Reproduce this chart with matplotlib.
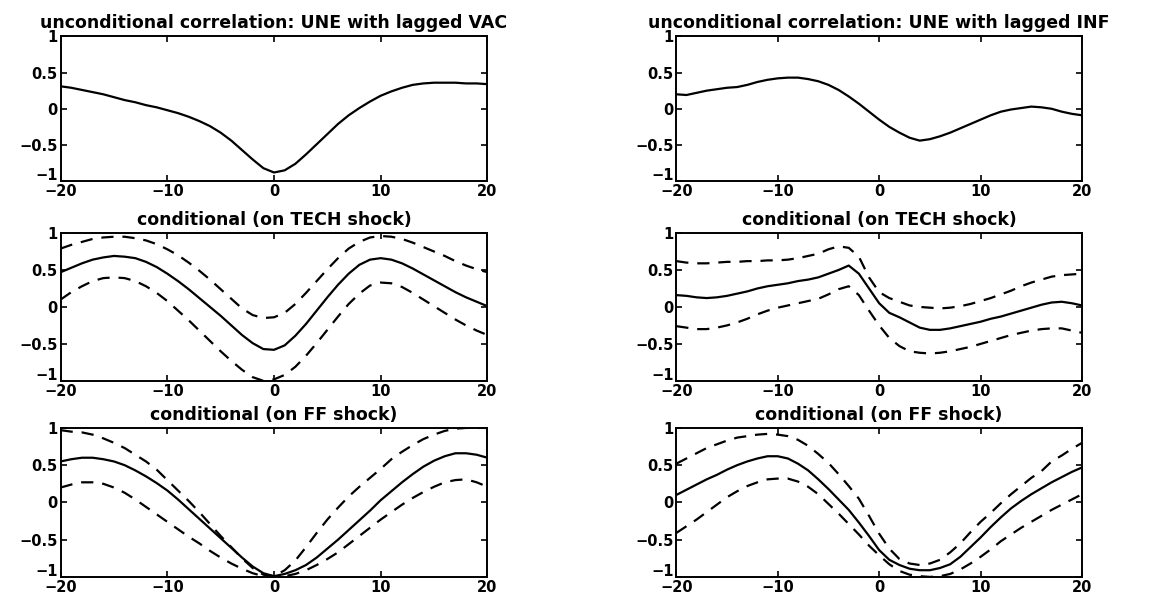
import numpy as np
import matplotlib.pyplot as plt
from matplotlib.transforms import ScaledTranslation

plt.rcParams['font.family'] = ['DejaVu Sans']
plt.rcParams['font.weight'] = 'bold'

# lags -20 .. 20
lags = np.arange(-20, 21)

# unconditional: UNE with lagged VAC
vac_uncond = [0.31, 0.29, 0.26, 0.23, 0.20, 0.16, 0.12, 0.09, 0.05, 0.02,
              -0.02, -0.06, -0.11, -0.17, -0.24, -0.33, -0.44, -0.57, -0.70, -0.82,
              -0.88, -0.85, -0.76, -0.63, -0.49, -0.35, -0.21, -0.09, 0.01, 0.10,
              0.18, 0.24, 0.29, 0.33, 0.35, 0.36, 0.36, 0.36, 0.35, 0.35, 0.34]
# unconditional: UNE with lagged INF
inf_uncond = [0.20, 0.19, 0.22, 0.25, 0.27, 0.29, 0.30, 0.33, 0.37, 0.40,
              0.42, 0.43, 0.43, 0.41, 0.38, 0.33, 0.26, 0.17, 0.07, -0.04,
              -0.15, -0.25, -0.33, -0.40, -0.44, -0.42, -0.38, -0.33, -0.27, -0.21,
              -0.15, -0.09, -0.04, -0.01, 0.01, 0.03, 0.02, 0.00, -0.04, -0.07, -0.09]

# conditional on TECH shock, VAC
vac_tech = [0.47, 0.53, 0.59, 0.64, 0.67, 0.69, 0.68, 0.66, 0.61, 0.54,
            0.45, 0.35, 0.24, 0.12, 0.00, -0.12, -0.25, -0.38, -0.49, -0.57,
            -0.58, -0.52, -0.39, -0.23, -0.05, 0.13, 0.30, 0.45, 0.57, 0.64,
            0.66, 0.64, 0.59, 0.52, 0.44, 0.36, 0.28, 0.20, 0.13, 0.07, 0.01]
vac_tech_hi = [0.79, 0.84, 0.88, 0.92, 0.94, 0.95, 0.95, 0.93, 0.90, 0.85,
               0.78, 0.70, 0.60, 0.49, 0.37, 0.24, 0.11, -0.02, -0.11, -0.15,
               -0.14, -0.08, 0.04, 0.19, 0.35, 0.51, 0.66, 0.79, 0.88, 0.94,
               0.96, 0.95, 0.92, 0.87, 0.81, 0.75, 0.69, 0.62, 0.56, 0.51, 0.47]
vac_tech_lo = [0.10, 0.20, 0.28, 0.35, 0.39, 0.40, 0.39, 0.35, 0.28, 0.19,
               0.08, -0.05, -0.18, -0.32, -0.46, -0.60, -0.73, -0.85, -0.95, -1.00,
               -0.98, -0.92, -0.81, -0.66, -0.49, -0.31, -0.13, 0.04, 0.18, 0.29,
               0.33, 0.32, 0.27, 0.19, 0.10, 0.01, -0.08, -0.17, -0.25, -0.32, -0.38]

# conditional on TECH shock, INF
inf_tech = [0.16, 0.15, 0.13, 0.12, 0.13, 0.15, 0.18, 0.21, 0.25, 0.28,
            0.30, 0.32, 0.35, 0.37, 0.40, 0.45, 0.50, 0.56, 0.45, 0.25,
            0.05, -0.08, -0.14, -0.21, -0.28, -0.31, -0.31, -0.29, -0.26, -0.23,
            -0.20, -0.16, -0.13, -0.09, -0.05, -0.01, 0.03, 0.06, 0.07, 0.05, 0.02]
inf_tech_hi = [0.62, 0.60, 0.59, 0.59, 0.60, 0.61, 0.61, 0.62, 0.62, 0.63,
               0.63, 0.64, 0.66, 0.69, 0.72, 0.78, 0.82, 0.80, 0.68, 0.40,
               0.20, 0.12, 0.07, 0.02, 0.00, -0.01, -0.02, -0.01, 0.01, 0.04,
               0.08, 0.12, 0.17, 0.22, 0.28, 0.33, 0.37, 0.41, 0.43, 0.44, 0.45]
inf_tech_lo = [-0.26, -0.28, -0.30, -0.30, -0.28, -0.25, -0.21, -0.16, -0.10, -0.05,
               -0.01, 0.02, 0.05, 0.08, 0.11, 0.17, 0.24, 0.28, 0.16, -0.05,
               -0.25, -0.42, -0.53, -0.60, -0.62, -0.63, -0.62, -0.60, -0.57, -0.54,
               -0.50, -0.46, -0.42, -0.38, -0.35, -0.32, -0.30, -0.29, -0.29, -0.32, -0.35]

# conditional on FF shock, VAC
vac_ff = [0.55, 0.58, 0.60, 0.60, 0.58, 0.55, 0.50, 0.43, 0.35, 0.26,
          0.16, 0.04, -0.09, -0.22, -0.35, -0.48, -0.61, -0.74, -0.86, -0.95,
          -0.99, -0.96, -0.91, -0.84, -0.74, -0.62, -0.50, -0.37, -0.24, -0.11,
          0.03, 0.15, 0.27, 0.38, 0.48, 0.56, 0.62, 0.66, 0.66, 0.64, 0.60]
vac_ff_hi = [0.97, 0.95, 0.94, 0.91, 0.86, 0.80, 0.73, 0.64, 0.55, 0.44,
             0.30, 0.16, 0.02, -0.13, -0.29, -0.45, -0.60, -0.75, -0.88, -0.97,
             -0.99, -0.91, -0.78, -0.60, -0.41, -0.23, -0.07, 0.08, 0.21, 0.33,
             0.45, 0.58, 0.68, 0.77, 0.85, 0.91, 0.96, 0.99, 1.00, 1.00, 1.00]
vac_ff_lo = [0.20, 0.24, 0.27, 0.27, 0.25, 0.20, 0.13, 0.04, -0.06, -0.16,
             -0.26, -0.36, -0.46, -0.55, -0.65, -0.74, -0.82, -0.89, -0.95, -0.99,
             -1.00, -0.99, -0.96, -0.91, -0.84, -0.76, -0.67, -0.56, -0.45, -0.34,
             -0.23, -0.13, -0.03, 0.06, 0.14, 0.21, 0.27, 0.30, 0.31, 0.27, 0.21]

# conditional on FF shock, INF
inf_ff = [0.10, 0.17, 0.24, 0.31, 0.37, 0.44, 0.50, 0.55, 0.59, 0.62,
          0.62, 0.59, 0.52, 0.43, 0.31, 0.18, 0.04, -0.10, -0.27, -0.45,
          -0.64, -0.77, -0.84, -0.89, -0.91, -0.91, -0.88, -0.83, -0.73, -0.60,
          -0.47, -0.33, -0.20, -0.08, 0.02, 0.11, 0.19, 0.27, 0.34, 0.41, 0.47]
inf_ff_hi = [0.52, 0.59, 0.66, 0.73, 0.78, 0.83, 0.87, 0.89, 0.91, 0.92,
             0.91, 0.89, 0.84, 0.76, 0.65, 0.53, 0.38, 0.22, 0.05, -0.18,
             -0.42, -0.62, -0.76, -0.82, -0.84, -0.82, -0.77, -0.67, -0.55, -0.40,
             -0.26, -0.14, -0.01, 0.11, 0.22, 0.33, 0.42, 0.55, 0.63, 0.72, 0.80]
inf_ff_lo = [-0.41, -0.32, -0.23, -0.13, -0.03, 0.07, 0.15, 0.22, 0.27, 0.31,
             0.32, 0.32, 0.28, 0.21, 0.11, -0.02, -0.15, -0.29, -0.43, -0.58,
             -0.71, -0.83, -0.92, -0.97, -0.99, -1.00, -0.99, -0.96, -0.90, -0.82,
             -0.73, -0.63, -0.52, -0.43, -0.34, -0.26, -0.18, -0.10, -0.03, 0.04, 0.11]

titles = ['unconditional correlation: UNE with lagged VAC',
          'unconditional correlation: UNE with lagged INF',
          'conditional (on TECH shock)', 'conditional (on TECH shock)',
          'conditional (on FF shock)', 'conditional (on FF shock)']

panels = [(vac_uncond, None, None), (inf_uncond, None, None),
          (vac_tech, vac_tech_hi, vac_tech_lo), (inf_tech, inf_tech_hi, inf_tech_lo),
          (vac_ff, vac_ff_hi, vac_ff_lo), (inf_ff, inf_ff_hi, inf_ff_lo)]

fig = plt.figure(figsize=(11.66, 5.96), dpi=100)

col_x = [(0.052, 0.366), (0.580, 0.348)]
row_y = [(0.696, 0.243), (0.361, 0.248), (0.032, 0.250)]

for i, (mid, hi, lo) in enumerate(panels):
    r, c = divmod(i, 2)
    ax = fig.add_axes([col_x[c][0], row_y[r][0], col_x[c][1], row_y[r][1]])
    ax.plot(lags, mid, color='black', lw=1.6)
    if hi is not None:
        ax.plot(lags, hi, color='black', lw=1.6, dashes=(5.5, 4))
        ax.plot(lags, lo, color='black', lw=1.6, dashes=(5.5, 4))
    ax.set_xlim(-20, 20)
    ax.set_ylim(-1, 1)
    ax.set_xticks([-20, -10, 0, 10, 20])
    ax.set_yticks([-1, -0.5, 0, 0.5, 1])
    ax.set_yticklabels(['\u22121', '\u22120.5', '0', '0.5', '1'])
    ax.tick_params(direction='in', top=True, right=True, length=4, width=1.2,
                   labelsize=10.5, pad=2)
    # matlab puts the -1 label a bit higher, out of the way of -20
    lab = ax.get_yticklabels()[0]
    lab.set_transform(lab.get_transform() + ScaledTranslation(0, 5 / 72, fig.dpi_scale_trans))
    for s in ax.spines.values():
        s.set_linewidth(1.4)
    ax.set_title(titles[i], fontsize=12.5, fontweight='bold', pad=6)

plt.savefig('out.png', dpi=100)
